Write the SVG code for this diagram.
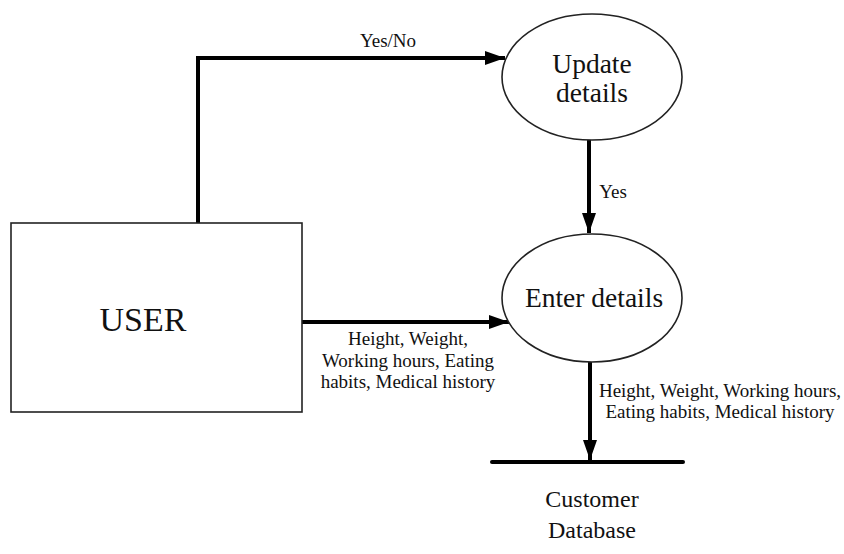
<svg xmlns="http://www.w3.org/2000/svg" width="844" height="554" viewBox="0 0 844 554">
  <style>
    .shape { fill: #fff; stroke: #222; stroke-width: 1.6; }
    .flow { fill: none; stroke: #000; stroke-width: 4; }
    .t { font-family: 'Liberation Serif', 'Times New Roman', Times, 'DejaVu Serif', serif; fill: #111; text-anchor: middle; }
    .lbl { font-size: 19px; }
    .big { font-size: 27.5px; }
  </style>
  <defs>
    <marker id="arrow" markerUnits="userSpaceOnUse" markerWidth="20" markerHeight="14" refX="20" refY="7" orient="auto">
      <path d="M0,0 L20,7 L0,14 Z" fill="#000"/>
    </marker>
  </defs>

  <g id="connectors">
    <path class="flow" d="M198,223 V58 H505" marker-end="url(#arrow)"/>
    <path class="flow" d="M589,140 V233" marker-end="url(#arrow)"/>
    <path class="flow" d="M302,322 H509" marker-end="url(#arrow)"/>
    <path class="flow" d="M590,362 V460" marker-end="url(#arrow)"/>
    <text class="t lbl" x="388" y="47">Yes/No</text>
    <text class="t lbl" x="613" y="198">Yes</text>
    <text class="t lbl" x="408" y="345">Height, Weight,</text>
    <text class="t lbl" x="408" y="367">Working hours, Eating</text>
    <text class="t lbl" x="408" y="388">habits, Medical history</text>
    <text class="t lbl" x="720" y="397">Height, Weight, Working hours,</text>
    <text class="t lbl" x="720" y="418">Eating habits, Medical history</text>
  </g>

  <g id="user">
    <rect class="shape" x="11" y="223" width="291" height="189"/>
    <text class="t" x="143" y="331" font-size="34">USER</text>
  </g>

  <g id="update-details">
    <ellipse class="shape" cx="592" cy="77" rx="90" ry="63"/>
    <text class="t big" x="592" y="73">Update</text>
    <text class="t big" x="592" y="102">details</text>
  </g>

  <g id="enter-details">
    <ellipse class="shape" cx="592" cy="298" rx="90" ry="64"/>
    <text class="t big" x="594" y="307">Enter details</text>
  </g>

  <g id="customer-database">
    <line x1="492" y1="462" x2="683" y2="462" stroke="#000" stroke-width="4" stroke-linecap="round"/>
    <text class="t" x="592" y="507" font-size="24">Customer</text>
    <text class="t" x="592" y="538" font-size="24">Database</text>
  </g>
</svg>
